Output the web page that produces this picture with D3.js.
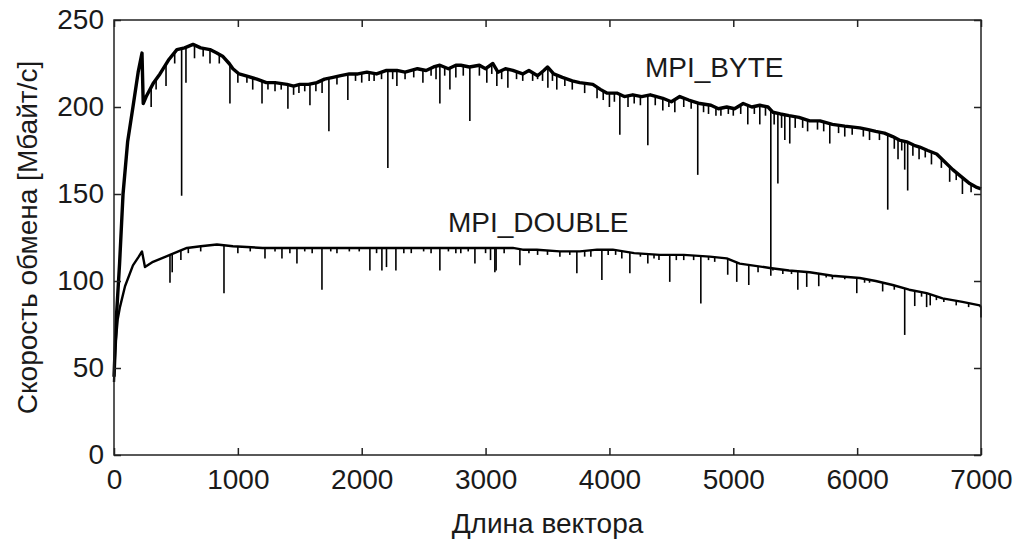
<!DOCTYPE html>
<html>
  <head>
    <meta charset="utf-8" />
    <title>MPI_BYTE / MPI_DOUBLE</title>
    <script src="https://d3js.org/d3.v7.min.js"></script>
    <style>
      body {
        margin: 0;
        background: #fff;
      }
      text {
        font-family: "Liberation Sans", Arial, sans-serif;
        fill: #1a1a1a;
      }
    </style>
  </head>
  <body>
    <div id="chart"></div>

    <script>
      // Axis ticks
      const xTicks = [0, 1000, 2000, 3000, 4000, 5000, 6000, 7000];
      const yTicks = [0, 50, 100, 150, 200, 250];

      // MPI_BYTE: smooth part of the curve [length, rate]
      const byteBase = [
        [0, 45], [20, 80], [45, 110], [73, 150], [110, 180], [153, 200], [195, 220],
        [226, 231], [236, 202], [260, 206], [320, 214], [371, 219], [440, 227],
        [508, 233], [570, 234], [638, 236], [700, 234], [775, 233], [830, 231],
        [880, 229], [930, 225], [960, 222], [1010, 219], [1060, 218], [1154, 216],
        [1230, 214], [1300, 214], [1396, 213], [1450, 212], [1500, 213], [1570, 213],
        [1638, 214], [1700, 216], [1768, 217], [1830, 218], [1900, 219], [1970, 219],
        [2042, 220], [2120, 219], [2200, 221], [2284, 221], [2350, 220], [2450, 222],
        [2520, 221], [2580, 223], [2631, 224], [2700, 222], [2760, 224], [2800, 224],
        [2870, 223], [2950, 224], [3000, 222], [3059, 225], [3100, 220], [3160, 222],
        [3220, 221], [3300, 219], [3350, 221], [3420, 218], [3470, 221], [3500, 223],
        [3550, 219], [3620, 217], [3700, 215], [3760, 214], [3866, 213], [3930, 210],
        [3979, 208], [4060, 208], [4120, 206], [4189, 207], [4260, 206], [4330, 207],
        [4431, 205], [4500, 203], [4568, 206], [4640, 204], [4730, 202], [4820, 201],
        [4880, 199], [4947, 200], [5010, 199], [5080, 202], [5150, 200], [5214, 201],
        [5280, 200], [5319, 197], [5380, 196], [5450, 195], [5530, 194], [5617, 192],
        [5700, 192], [5800, 190], [5900, 189], [6021, 188], [6090, 187], [6150, 186],
        [6220, 185], [6287, 183], [6340, 181], [6400, 180], [6460, 178], [6505, 177],
        [6570, 175], [6642, 173], [6700, 169], [6772, 164], [6840, 160], [6909, 156],
        [6960, 154], [7000, 153]
      ];
      // MPI_BYTE: downward drops [length, lowest rate]
      const byteDrops = [
        [300, 200], [340, 210], [420, 212], [490, 225], [546, 149], [581, 214],
        [650, 228], [720, 229], [775, 225], [850, 225], [936, 202], [1000, 214],
        [1073, 214], [1120, 210], [1195, 202], [1243, 210], [1300, 209], [1350, 210],
        [1404, 199], [1450, 207], [1493, 208], [1540, 209], [1582, 201], [1630, 209],
        [1680, 208], [1735, 186], [1800, 213], [1888, 204], [1950, 215], [2000, 214],
        [2060, 215], [2100, 215], [2160, 216], [2211, 165], [2250, 216], [2284, 212],
        [2350, 216], [2420, 217], [2494, 214], [2560, 218], [2600, 216], [2631, 202],
        [2670, 218], [2712, 210], [2760, 217], [2820, 218], [2873, 192], [2950, 218],
        [3010, 214], [3050, 219], [3091, 212], [3130, 216], [3180, 211], [3250, 216],
        [3300, 215], [3380, 215], [3420, 216], [3460, 215], [3503, 211], [3540, 215],
        [3575, 210], [3640, 212], [3700, 210], [3800, 208], [3900, 205], [3950, 204],
        [4000, 200], [4040, 203], [4084, 184], [4150, 200], [4200, 202], [4250, 201],
        [4310, 178], [4370, 201], [4431, 198], [4480, 200], [4528, 197], [4600, 200],
        [4660, 199], [4713, 161], [4760, 197], [4800, 196], [4860, 195], [4900, 195],
        [4960, 196], [5000, 195], [5060, 196], [5117, 190], [5170, 196], [5214, 190],
        [5260, 195], [5303, 103], [5330, 190], [5360, 156], [5390, 188], [5416, 181],
        [5456, 179], [5500, 188], [5560, 188], [5600, 186], [5680, 187], [5730, 186],
        [5779, 179], [5850, 185], [5900, 183], [5960, 184], [6050, 183], [6100, 181],
        [6180, 181], [6247, 141], [6300, 176], [6330, 170], [6360, 175], [6384, 164],
        [6408, 152], [6450, 172], [6500, 170], [6550, 171], [6600, 167], [6680, 165],
        [6747, 157], [6800, 158], [6850, 150], [6920, 151]
      ];

      // MPI_DOUBLE: smooth part of the curve [length, rate]
      const doubleBase = [
        [0, 42], [10, 62], [30, 78], [48, 85], [89, 97], [153, 109], [200, 114],
        [226, 117], [250, 108], [315, 111], [452, 115], [520, 117], [589, 119],
        [700, 120], [831, 121], [960, 120], [1200, 119], [1501, 119], [1800, 119],
        [2308, 119], [2700, 119], [3100, 119], [3220, 119], [3300, 118], [3414, 118],
        [3600, 117], [3761, 117], [3900, 118], [4027, 118], [4200, 116], [4407, 115],
        [4600, 115], [4810, 114], [4947, 113], [5052, 110], [5150, 109], [5295, 107.5],
        [5450, 106], [5617, 105], [5800, 103], [6021, 101.7], [6150, 100], [6287, 97.7],
        [6420, 95], [6561, 93], [6690, 90], [6850, 88], [6990, 86], [7000, 85]
      ];
      // MPI_DOUBLE: downward drops [length, lowest rate]
      const doubleDrops = [
        [452, 99], [470, 105], [540, 112], [600, 116], [700, 117], [888, 93],
        [1000, 116], [1100, 117], [1219, 113], [1300, 117], [1356, 113], [1420, 116],
        [1477, 110], [1540, 117], [1600, 116], [1679, 95], [1750, 117], [1800, 116],
        [1900, 117], [1980, 117], [2066, 106], [2120, 116], [2163, 106], [2200, 108],
        [2276, 106], [2340, 116], [2400, 116], [2500, 117], [2560, 116], [2631, 106],
        [2700, 117], [2760, 116], [2800, 116], [2860, 117], [2914, 110], [3000, 116],
        [3040, 112], [3075, 105], [3085, 106], [3150, 116], [3277, 109], [3350, 116],
        [3420, 115], [3500, 115], [3600, 114], [3680, 115], [3737, 104.5], [3800, 114],
        [3850, 114], [3939, 100.6], [3990, 115], [4050, 115], [4100, 113], [4165, 104.5],
        [4250, 114], [4310, 110], [4360, 113], [4400, 112], [4487, 99.5], [4540, 112],
        [4600, 112], [4680, 112], [4738, 87], [4800, 112], [4850, 111], [4955, 103.6],
        [5028, 99.5], [5125, 97.7], [5200, 105], [5320, 106], [5400, 104], [5470, 104],
        [5521, 95], [5593, 96.6], [5690, 97], [5750, 102], [5800, 101], [5900, 101],
        [5997, 93], [6060, 99], [6100, 99], [6206, 94], [6300, 95], [6384, 69],
        [6465, 85.6], [6520, 91], [6561, 85], [6590, 86], [6640, 89], [6700, 88],
        [6800, 86], [6900, 85], [7000, 79]
      ];

      const seriesLabels = [
        { name: "MPI_BYTE", x: 645, y: 77 },
        { name: "MPI_DOUBLE", x: 448, y: 232 }
      ];

      const width = 1021;
      const height = 550;
      const margin = { top: 20, right: 40, bottom: 95, left: 114 };

      const svg = d3
        .select("#chart")
        .append("svg")
        .attr("width", width)
        .attr("height", height);

      const x = d3
        .scaleLinear()
        .domain([0, 7000])
        .range([margin.left, width - margin.right]);
      const y = d3
        .scaleLinear()
        .domain([0, 250])
        .range([height - margin.bottom, margin.top]);

      const line = d3
        .line()
        .x((d) => x(d[0]))
        .y((d) => y(d[1]));

      // draw one series: the smooth curve plus its drops
      function drawSeries(base, drops, w) {
        // piecewise scale through the base points, to find where a drop starts
        const baseAt = d3
          .scaleLinear()
          .domain(base.map((d) => d[0]))
          .range(base.map((d) => d[1]));

        svg
          .append("path")
          .datum(base)
          .attr("fill", "none")
          .attr("stroke", "#000")
          .attr("stroke-width", w)
          .attr("stroke-linejoin", "round")
          .attr("d", line);

        svg
          .append("g")
          .selectAll("line")
          .data(drops)
          .join("line")
          .attr("x1", (d) => x(d[0]))
          .attr("x2", (d) => x(d[0]))
          .attr("y1", (d) => y(baseAt(d[0])))
          .attr("y2", (d) => y(d[1]))
          .attr("stroke", "#000")
          .attr("stroke-width", 1.6);
      }

      drawSeries(byteBase, byteDrops, 3.4);
      drawSeries(doubleBase, doubleDrops, 2.4);

      // axes, ticks pointing inwards on all four sides
      const fontSize = "28px";
      const plotBottom = height - margin.bottom;
      const plotRight = width - margin.right;

      svg
        .append("g")
        .attr("transform", `translate(0,${plotBottom})`)
        .call(
          d3
            .axisBottom(x)
            .tickValues(xTicks)
            .tickFormat(d3.format("d"))
            .tickSize(-7)
            .tickPadding(14)
        );
      svg
        .append("g")
        .attr("transform", `translate(${margin.left},0)`)
        .call(d3.axisLeft(y).tickValues(yTicks).tickSize(-7).tickPadding(10));
      svg
        .append("g")
        .attr("transform", `translate(0,${margin.top})`)
        .call(d3.axisTop(x).tickValues(xTicks).tickSize(-7).tickFormat(""));
      svg
        .append("g")
        .attr("transform", `translate(${plotRight},0)`)
        .call(d3.axisRight(y).tickValues(yTicks).tickSize(-7).tickFormat(""));

      svg.selectAll(".domain").remove();
      svg.selectAll(".tick line").attr("stroke", "#222").attr("stroke-width", 1.5);
      svg
        .selectAll(".tick text")
        .style("font-size", fontSize)
        .style("font-family", '"Liberation Sans", Arial, sans-serif')
        .attr("fill", "#1a1a1a");

      // plot box
      svg
        .append("rect")
        .attr("x", margin.left)
        .attr("y", margin.top)
        .attr("width", plotRight - margin.left)
        .attr("height", plotBottom - margin.top)
        .attr("fill", "none")
        .attr("stroke", "#222")
        .attr("stroke-width", 1.5);

      // axis titles
      svg
        .append("text")
        .attr("x", (margin.left + plotRight) / 2)
        .attr("y", 533)
        .attr("text-anchor", "middle")
        .style("font-size", fontSize)
        .text("Длина вектора");

      svg
        .append("text")
        .attr("transform", `translate(37,${(margin.top + plotBottom) / 2}) rotate(-90)`)
        .attr("text-anchor", "middle")
        .style("font-size", fontSize)
        .text("Скорость обмена [Мбайт/с]");

      // series names
      svg
        .selectAll(".series-label")
        .data(seriesLabels)
        .join("text")
        .attr("class", "series-label")
        .attr("x", (d) => d.x)
        .attr("y", (d) => d.y)
        .style("font-size", fontSize)
        .text((d) => d.name);
    </script>
  </body>
</html>
